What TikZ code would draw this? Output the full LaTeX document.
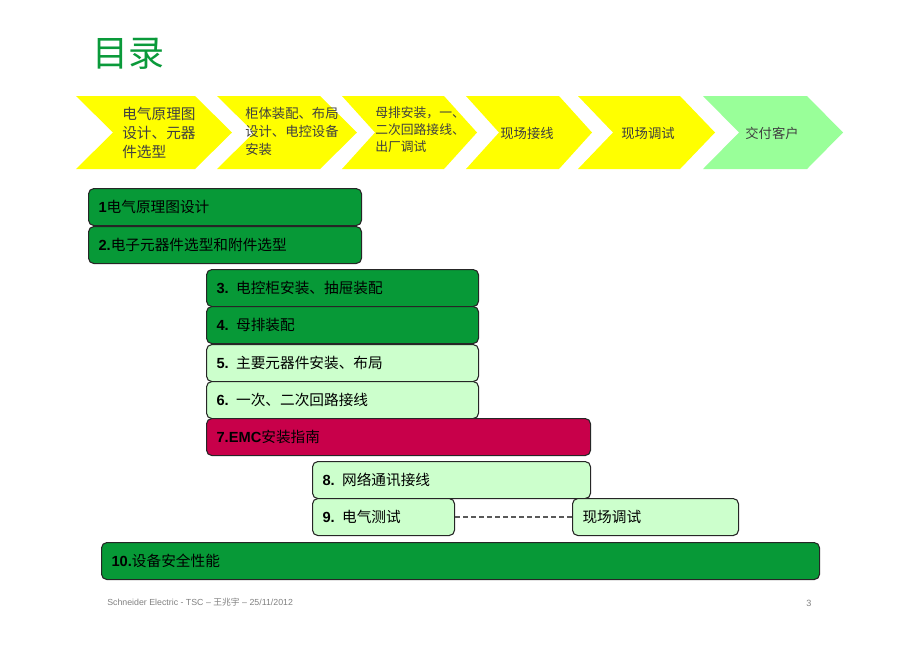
\documentclass[tikz,border=0pt]{standalone}
\usepackage{fontspec}
\setmainfont{Liberation Sans}
\newfontfamily\cjk{Noto Sans CJK SC}
\definecolor{chevyellow}{HTML}{FFFF00}
\definecolor{chevgreen}{HTML}{99FF99}
\definecolor{chevtext}{HTML}{404040}
\definecolor{dkgreen}{HTML}{079937}
\definecolor{ltgreen}{HTML}{CCFFCC}
\definecolor{crimson}{HTML}{C8004A}
\definecolor{titlegreen}{HTML}{0A9A3A}
\definecolor{footgray}{HTML}{808080}
\tikzset{
  chevtxt/.style={text=chevtext, inner sep=0pt, align=left, font=\cjk\fontsize{10}{13.5}\selectfont},
  rbox/.style={draw=black!85, line width=0.8pt, rounded corners=4pt, anchor=north west,
    minimum height=27.75pt, inner xsep=7.5pt, inner ysep=0pt, align=left,
    font=\fontsize{11}{13}\selectfont},
  dk/.style={rbox, fill=dkgreen},
  lt/.style={rbox, fill=ltgreen},
  cr/.style={rbox, fill=crimson},
}
\newcommand\zh[1]{{\cjk #1}}
\newcommand\chev[5]{% name, left, tip, colour, depth
  \fill[#4] (#2,96) -- (#3-#5,96) -- (#3,132.5) -- (#3-#5,169) -- (#2,169) -- (#2+#5,132.5) -- cycle;
  \coordinate (#1) at ({(#2+#3)/2+18},132.5);}
\begin{document}
\begin{tikzpicture}[x=0.75pt,y=-0.75pt]
\useasboundingbox (0,0) rectangle (920,651);
% title
\node[anchor=west, inner sep=0pt, text=titlegreen, font=\cjk\fontsize{27}{30}\selectfont] (title) at (92,54) {目录};
% chevrons
\chev{c1}{76}{232}{chevyellow}{37}
\chev{c2}{217}{357}{chevyellow}{37}
\chev{c3}{342}{477}{chevyellow}{33}
\chev{c4}{466}{592}{chevyellow}{33}
\chev{c5}{578}{715}{chevyellow}{35}
\chev{c6}{703}{843}{chevgreen}{36}
\node[chevtxt, anchor=west, font=\cjk\fontsize{11}{14}\selectfont] (t1) at (122,133) {电气原理图\\设计、元器\\件选型};
\node[chevtxt, anchor=west] (t2) at (245,131) {柜体装配、布局\\设计、电控设备\\安装};
\node[chevtxt, anchor=west, font=\cjk\fontsize{9.6}{12.8}\selectfont] (t3) at (375,130) {母排安装，一、\\二次回路接线、\\出厂调试};
\node[chevtxt] (t4) at (527,133) {现场接线};
\node[chevtxt] (t5) at (648,133) {现场调试};
\node[chevtxt] (t6) at (772,133) {交付客户};
% boxes
\node[dk, text width=189.75pt] (b1) at (88,188) {\textbf{1}\zh{电气原理图设计}};
\node[dk, text width=189.75pt] (b2) at (88,226) {\textbf{2.}\zh{电子元器件选型和附件选型}};
\node[dk, text width=189pt] (b3) at (206,269) {\textbf{3.} \zh{电控柜安装、抽屉装配}};
\node[dk, text width=189pt] (b4) at (206,306) {\textbf{4.} \zh{母排装配}};
\node[lt, text width=189pt] (b5) at (206,344) {\textbf{5.} \zh{主要元器件安装、布局}};
\node[lt, text width=189pt] (b6) at (206,381) {\textbf{6.} \zh{一次、二次回路接线}};
\node[cr, text width=273pt] (b7) at (206,418) {\textbf{7.EMC}\zh{安装指南}};
\node[lt, text width=193.5pt] (b8) at (312,461) {\textbf{8.} \zh{网络通讯接线}};
\node[lt, text width=91.5pt] (b9) at (312,498) {\textbf{9.} \zh{电气测试}};
\node[lt, text width=109.5pt] (b9b) at (572,498) {\zh{现场调试}};
\node[dk, text width=523.5pt] (b10) at (101,542) {\textbf{10.}\zh{设备安全性能}};
\draw[black!65, line width=1pt, dash pattern=on 3.5pt off 2.5pt] (b9.east) -- (b9b.west);
% footer
\node[anchor=west, inner sep=0pt, text=footgray, font=\fontsize{6.6}{8}\selectfont] (foot) at (107,602) {Schneider Electric - TSC – \zh{王兆宇} – 25/11/2012};
\node[inner sep=0pt, text=footgray, font=\fontsize{6.8}{8}\selectfont] (page) at (809,603) {3};
\end{tikzpicture}
\end{document}
